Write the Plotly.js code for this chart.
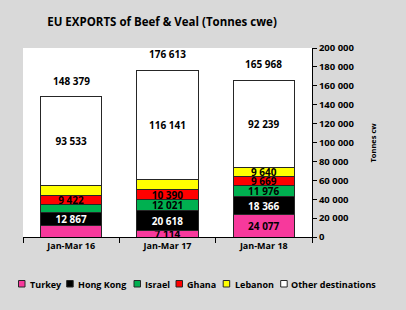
<!DOCTYPE html>
<html>
<head>
<meta charset="utf-8">
<script src="https://cdn.plot.ly/plotly-3.0.1.min.js"></script>
<style>html,body{margin:0;padding:0;background:#d9d9d9;}#chart{width:406px;height:310px;}</style>
</head>
<body>
<div id="chart"></div>
<script>
var categories = ["Jan-Mar 16", "Jan-Mar 17", "Jan-Mar 18"];
var seriesNames = ["Turkey", "Hong Kong", "Israel", "Ghana", "Lebanon", "Other destinations"];
var turkey = [12600, 7114, 24077];
var hongKong = [12867, 20618, 18366];
var israel = [9200, 12021, 11976];
var ghana = [9422, 10390, 9669];
var lebanon = [10757, 10329, 9640];
var other = [93533, 116141, 92239];
var totals = [148379, 176613, 165968];
// which segment values are labelled in the original
var labelTurkey = [false, true, true];
var labelHongKong = [true, true, true];
var labelIsrael = [false, true, true];
var labelGhana = [true, true, true];
var labelLebanon = [false, false, true];
var labelOther = [true, true, true];
var yTicks = [0, 20000, 40000, 60000, 80000, 100000, 120000, 140000, 160000, 180000, 200000];

var colors = ["#f7399c", "#000000", "#00b050", "#ff0000", "#ffff00", "#ffffff"];
var textColors = ["#000000", "#ffffff", "#000000", "#000000", "#000000", "#000000"];
var series = [turkey, hongKong, israel, ghana, lebanon, other];
var labels = [labelTurkey, labelHongKong, labelIsrael, labelGhana, labelLebanon, labelOther];
var FONT = "Open Sans, sans-serif";

function fmt(v) {
  return String(v).replace(/\B(?=(\d{3})+(?!\d))/g, " ");
}

var traces = series.map(function (vals, i) {
  return {
    type: "bar",
    name: seriesNames[i],
    x: categories,
    y: vals,
    text: vals.map(function (v, j) { return labels[i][j] ? "<b>" + fmt(v) + "</b>" : ""; }),
    textposition: "inside",
    insidetextanchor: "middle",
    constraintext: "none",
    textangle: 0,
    textfont: {family: FONT, size: 10, color: textColors[i]},
    marker: {color: colors[i], line: {color: "#262626", width: 1}},
    hoverinfo: "none",
    showlegend: false
  };
});

var W = 406, H = 310, ml = 23, mr = 94, mt = 48, mb = 73;
var pw = W - ml - mr, ph = H - mt - mb;
function px2x(p) { return (p - ml) / pw; }
function py2y(p) { return (H - mb - p) / ph; }

var annotations = categories.map(function (c, j) {
  return {
    x: c, y: totals[j], xref: "x", yref: "y",
    text: "<b>" + fmt(totals[j]) + "</b>", showarrow: false,
    yanchor: "bottom", yshift: 7,
    font: {family: FONT, size: 10, color: "#000"}
  };
});

// y-axis title placed to match the original
annotations.push({
  x: px2x(372), y: 0.5, xref: "paper", yref: "paper",
  xanchor: "center", yanchor: "middle", showarrow: false, textangle: -90,
  text: "<b>Tonnes cw</b>",
  font: {family: FONT, size: 7.5, color: "#000"}
});

// legend (drawn manually to match compact spacing)
var legendSwatchX = [18.5, 66.7, 134, 176, 223.2, 280.7];
var legendTextX = [27.5, 76, 143, 185.2, 232.5, 289.2];
var shapes = [];
seriesNames.forEach(function (n, i) {
  shapes.push({
    type: "rect", xref: "paper", yref: "paper",
    x0: px2x(legendSwatchX[i]), x1: px2x(legendSwatchX[i] + 6.5),
    y0: py2y(287), y1: py2y(280.5),
    fillcolor: colors[i], line: {color: "#262626", width: 1}
  });
  annotations.push({
    x: px2x(legendTextX[i]), y: py2y(284), xref: "paper", yref: "paper",
    xanchor: "left", yanchor: "middle", showarrow: false,
    text: "<b>" + n + "</b>",
    font: {family: FONT, size: 9, color: "#000"}
  });
});

var layout = {
  width: W, height: H,
  paper_bgcolor: "#d9d9d9",
  plot_bgcolor: "#ffffff",
  margin: {l: ml, r: mr, t: mt, b: mb, pad: 0},
  barmode: "stack",
  bargap: 0.366,
  showlegend: false,
  title: {
    text: "<b>EU EXPORTS of Beef &amp; Veal (Tonnes cwe)</b>",
    x: 162 / W, xanchor: "center", xref: "container",
    y: 1 - 22 / H, yanchor: "middle", yref: "container",
    font: {family: FONT, size: 11.5, color: "#000"}
  },
  xaxis: {
    type: "category",
    tickvals: categories,
    ticktext: categories.map(function (c) { return "<b>" + c + "</b>"; }),
    showgrid: false,
    showline: true, linecolor: "#000", linewidth: 1,
    ticks: "outside", tickson: "boundaries", ticklen: 5, tickcolor: "#000",
    tickfont: {family: FONT, size: 9, color: "#000"},
    fixedrange: true
  },
  yaxis: {
    side: "right",
    range: [0, 200000],
    tickvals: yTicks,
    ticktext: yTicks.map(function (v) { return "<b>" + fmt(v) + "</b>"; }),
    showgrid: false, zeroline: false,
    showline: true, linecolor: "#000", linewidth: 1,
    ticks: "outside", ticklen: 4, tickcolor: "#000",
    tickfont: {family: FONT, size: 9.5, color: "#000"},
    automargin: false,
    fixedrange: true
  },
  annotations: annotations,
  shapes: shapes
};

Plotly.newPlot("chart", traces, layout, {displayModeBar: false, staticPlot: true});
</script>
</body>
</html>
